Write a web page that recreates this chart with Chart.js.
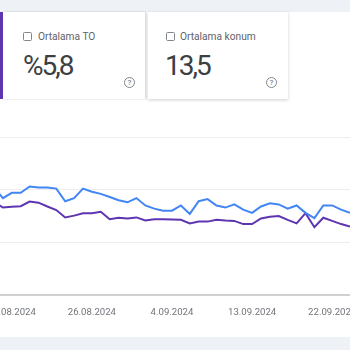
<!DOCTYPE html>
<html lang="tr">
<head>
<meta charset="utf-8">
<script src="https://cdn.jsdelivr.net/npm/chart.js@4"></script>
<style>
  body { margin: 0; width: 350px; height: 350px; overflow: hidden; position: relative; background: #fff; font-family: Roboto, sans-serif; }
  .strip { position: absolute; left: 0; width: 350px; background: #eef1f6; }
  .card { position: absolute; top: 12px; height: 87px; background: #fff; }
  .box { position: absolute; width: 7px; height: 7px; border: 1.5px solid #80868b; border-radius: 1.5px; }
  .lbl { position: absolute; font-size: 10.2px; line-height: 1; color: #5f6368; white-space: nowrap; }
  .num { position: absolute; font-size: 28px; line-height: 1; letter-spacing: -2px; color: #3c4043; white-space: nowrap; }
  .help { position: absolute; width: 9px; height: 9px; border: 1px solid #80868b; border-radius: 50%; color: #80868b;
          font-size: 8px; line-height: 9px; text-align: center; font-weight: 500; }
  #wrap { position: absolute; left: -6px; top: 127px; width: 356px; height: 193px; }
</style>
</head>
<body>
<div class="strip" style="top:0;height:12px"></div>
<div class="strip" style="top:337px;height:13px"></div>
<div style="position:absolute;left:0;top:12px;width:3px;height:87px;background:#5e35b1"></div>
<div class="card" style="left:3px;width:142px;box-shadow:1px 0 2px rgba(60,64,67,0.25)"></div>
<div class="card" style="left:148px;width:140px;box-shadow:0 1px 3px rgba(60,64,67,0.25)"></div>

<div class="box" style="left:23px;top:32px"></div>
<div class="lbl" style="left:38px;top:32px">Ortalama TO</div>
<div class="num" style="left:23px;top:52.4px">%5,8</div>
<div class="help" style="left:124px;top:77px">?</div>

<div class="box" style="left:166px;top:32px"></div>
<div class="lbl" style="left:180px;top:32px">Ortalama konum</div>
<div class="num" style="left:165px;top:52.4px">13,5</div>
<div class="help" style="left:266px;top:77px">?</div>

<div id="wrap"><canvas id="chart"></canvas></div>

<script>
// ===== Data (15.08.2024 - 24.09.2024) =====
const DATES = [
  "15.08.2024", "16.08.2024", "17.08.2024", "18.08.2024", "19.08.2024", "20.08.2024", "21.08.2024",
  "22.08.2024", "23.08.2024", "24.08.2024", "25.08.2024", "26.08.2024", "27.08.2024", "28.08.2024",
  "29.08.2024", "30.08.2024", "31.08.2024", "1.09.2024", "2.09.2024", "3.09.2024", "4.09.2024",
  "5.09.2024", "6.09.2024", "7.09.2024", "8.09.2024", "9.09.2024", "10.09.2024", "11.09.2024",
  "12.09.2024", "13.09.2024", "14.09.2024", "15.09.2024", "16.09.2024", "17.09.2024", "18.09.2024",
  "19.09.2024", "20.09.2024", "21.09.2024", "22.09.2024", "23.09.2024", "24.09.2024",
];
const TICK_DATES = ["17.08.2024", "26.08.2024", "4.09.2024", "13.09.2024", "22.09.2024"];

const CLICKS = [
  102, 92, 97, 97, 103, 102, 102, 101, 89, 92, 101, 98, 96, 93, 90, 88, 92, 85, 82, 80, 80,
  85, 77, 89, 91, 85, 83, 86, 81, 78, 84, 87, 86, 82, 85, 78, 73, 85, 85, 81, 78,
];
const IMPRESSIONS = [
  2650, 2490, 2510, 2530, 2660, 2630, 2520, 2420, 2210, 2260, 2330, 2330, 2370, 2160, 2200, 2180, 2210,
  2120, 2160, 2160, 2150, 2140, 2040, 2090, 2090, 2140, 2120, 2110, 2020, 2020, 2180, 2230, 2250,
  2140, 2040, 2330, 1930, 2200, 2110, 2020, 1950,
];

const BLUE = "#4285f4";
const PURPLE = "#5e35b1";

// ===== Chart =====
const ctx = document.getElementById("chart").getContext("2d");
new Chart(ctx, {
  type: "line",
  data: {
    labels: DATES,
    datasets: [
      { label: "Toplam tıklama", data: CLICKS, yAxisID: "y", borderColor: BLUE, borderWidth: 2, pointRadius: 0, tension: 0 },
      { label: "Toplam gösterim", data: IMPRESSIONS, yAxisID: "y1", borderColor: PURPLE, borderWidth: 2, pointRadius: 0, tension: 0 },
    ],
  },
  options: {
    responsive: true,
    maintainAspectRatio: false,
    animation: false,
    layout: { padding: { top: 10, left: 0, right: 0, bottom: 0 } },
    plugins: { legend: { display: false }, tooltip: { enabled: false } },
    scales: {
      x: {
        grid: { display: false },
        border: { display: false },
        // keep the plot flush with the canvas edges, labels may be cut off
        afterFit: (scale) => {
          scale.height = 25;
          scale.paddingLeft = 0;
          scale.paddingRight = 0;
        },
        ticks: {
          autoSkip: false,
          maxRotation: 0,
          minRotation: 0,
          padding: 4,
          color: "#70757a",
          font: { family: "Roboto", size: 9.6 },
          callback: function (value) {
            const label = this.getLabelForValue(value);
            return TICK_DATES.includes(label) ? label : "";
          },
        },
      },
      y: {
        min: 0,
        max: 150,
        ticks: { display: false, stepSize: 50 },
        border: { display: false },
        grid: {
          drawTicks: false,
          color: (c) => (c.tick.value === 0 ? "#cfd1d3" : "#eeeeee"),
          lineWidth: (c) => (c.tick.value === 0 ? 2 : 1),
        },
      },
      y1: { min: 0, max: 4500, display: false },
    },
  },
});
</script>
</body>
</html>
